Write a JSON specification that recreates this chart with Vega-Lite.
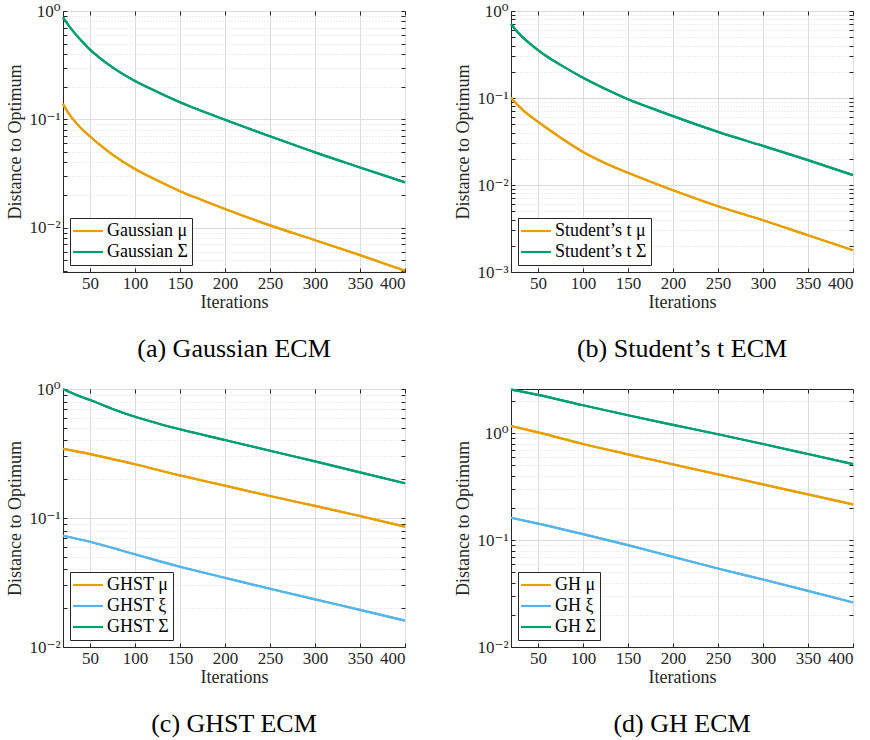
{
  "$schema": "https://vega.github.io/schema/vega-lite/v6.json",
  "padding": {"left": 6, "top": 1, "right": 5, "bottom": 5},
  "config": {
    "font": "Times New Roman, Liberation Serif, DejaVu Serif, serif",
    "view": {"stroke": "#262626", "strokeWidth": 1},
    "axis": {
      "labelFont": "Times New Roman, Liberation Serif, DejaVu Serif, serif", "labelFontSize": 17, "labelColor": "#262626",
      "titleFont": "Times New Roman, Liberation Serif, DejaVu Serif, serif", "titleFontSize": 18, "titleFontWeight": "normal", "titleColor": "#262626",
      "domainColor": "#262626", "tickColor": "#262626", "gridColor": "#dcdcdc", "gridWidth": 1,
      "tickSize": -4, "labelPadding": 7, "labelOverlap": false, "labelBound": false
    },
    "legend": {
      "orient": "bottom-left", "offset": 7, "strokeColor": "#262626", "fillColor": "white",
      "padding": 4, "symbolType": "M-3,0H3", "symbolSize": 100, "symbolStrokeWidth": 2.5, "symbolOffset": 5,
      "labelFont": "Times New Roman, Liberation Serif, DejaVu Serif, serif", "labelFontSize": 18, "labelColor": "#000000", "labelOffset": 10, "rowPadding": 3
    },
    "title": {"font": "Times New Roman, Liberation Serif, DejaVu Serif, serif", "fontSize": 26, "fontWeight": "normal", "color": "#000000"},
    "line": {"strokeWidth": 2.2, "clip": true, "interpolate": "monotone"}
  },
  "data": {"values": [
    {"panel": "a", "series": "Gaussian μ", "iter": 20, "dist": 0.139},
    {"panel": "a", "series": "Gaussian μ", "iter": 25, "dist": 0.118},
    {"panel": "a", "series": "Gaussian μ", "iter": 30, "dist": 0.103},
    {"panel": "a", "series": "Gaussian μ", "iter": 40, "dist": 0.0828},
    {"panel": "a", "series": "Gaussian μ", "iter": 50, "dist": 0.0697},
    {"panel": "a", "series": "Gaussian μ", "iter": 60, "dist": 0.0590},
    {"panel": "a", "series": "Gaussian μ", "iter": 75, "dist": 0.0473},
    {"panel": "a", "series": "Gaussian μ", "iter": 100, "dist": 0.0348},
    {"panel": "a", "series": "Gaussian μ", "iter": 125, "dist": 0.0272},
    {"panel": "a", "series": "Gaussian μ", "iter": 150, "dist": 0.0217},
    {"panel": "a", "series": "Gaussian μ", "iter": 175, "dist": 0.01795},
    {"panel": "a", "series": "Gaussian μ", "iter": 200, "dist": 0.0149},
    {"panel": "a", "series": "Gaussian μ", "iter": 250, "dist": 0.0105},
    {"panel": "a", "series": "Gaussian μ", "iter": 300, "dist": 0.00767},
    {"panel": "a", "series": "Gaussian μ", "iter": 350, "dist": 0.00558},
    {"panel": "a", "series": "Gaussian μ", "iter": 400, "dist": 0.00400},
    {"panel": "a", "series": "Gaussian Σ", "iter": 20, "dist": 0.875},
    {"panel": "a", "series": "Gaussian Σ", "iter": 25, "dist": 0.76},
    {"panel": "a", "series": "Gaussian Σ", "iter": 30, "dist": 0.67},
    {"panel": "a", "series": "Gaussian Σ", "iter": 40, "dist": 0.537},
    {"panel": "a", "series": "Gaussian Σ", "iter": 50, "dist": 0.44},
    {"panel": "a", "series": "Gaussian Σ", "iter": 60, "dist": 0.374},
    {"panel": "a", "series": "Gaussian Σ", "iter": 75, "dist": 0.302},
    {"panel": "a", "series": "Gaussian Σ", "iter": 100, "dist": 0.226},
    {"panel": "a", "series": "Gaussian Σ", "iter": 125, "dist": 0.179},
    {"panel": "a", "series": "Gaussian Σ", "iter": 150, "dist": 0.144},
    {"panel": "a", "series": "Gaussian Σ", "iter": 175, "dist": 0.119},
    {"panel": "a", "series": "Gaussian Σ", "iter": 200, "dist": 0.099},
    {"panel": "a", "series": "Gaussian Σ", "iter": 250, "dist": 0.0697},
    {"panel": "a", "series": "Gaussian Σ", "iter": 300, "dist": 0.0496},
    {"panel": "a", "series": "Gaussian Σ", "iter": 350, "dist": 0.036},
    {"panel": "a", "series": "Gaussian Σ", "iter": 400, "dist": 0.0262},
    {"panel": "b", "series": "Student’s t μ", "iter": 20, "dist": 0.1005},
    {"panel": "b", "series": "Student’s t μ", "iter": 25, "dist": 0.088},
    {"panel": "b", "series": "Student’s t μ", "iter": 30, "dist": 0.078},
    {"panel": "b", "series": "Student’s t μ", "iter": 40, "dist": 0.0634},
    {"panel": "b", "series": "Student’s t μ", "iter": 50, "dist": 0.0532},
    {"panel": "b", "series": "Student’s t μ", "iter": 60, "dist": 0.0449},
    {"panel": "b", "series": "Student’s t μ", "iter": 75, "dist": 0.0351},
    {"panel": "b", "series": "Student’s t μ", "iter": 100, "dist": 0.024},
    {"panel": "b", "series": "Student’s t μ", "iter": 125, "dist": 0.0178},
    {"panel": "b", "series": "Student’s t μ", "iter": 150, "dist": 0.0138},
    {"panel": "b", "series": "Student’s t μ", "iter": 175, "dist": 0.0109},
    {"panel": "b", "series": "Student’s t μ", "iter": 200, "dist": 0.0087},
    {"panel": "b", "series": "Student’s t μ", "iter": 250, "dist": 0.0057},
    {"panel": "b", "series": "Student’s t μ", "iter": 300, "dist": 0.00393},
    {"panel": "b", "series": "Student’s t μ", "iter": 350, "dist": 0.00264},
    {"panel": "b", "series": "Student’s t μ", "iter": 400, "dist": 0.00178},
    {"panel": "b", "series": "Student’s t Σ", "iter": 20, "dist": 0.708},
    {"panel": "b", "series": "Student’s t Σ", "iter": 25, "dist": 0.61},
    {"panel": "b", "series": "Student’s t Σ", "iter": 30, "dist": 0.535},
    {"panel": "b", "series": "Student’s t Σ", "iter": 40, "dist": 0.43},
    {"panel": "b", "series": "Student’s t Σ", "iter": 50, "dist": 0.356},
    {"panel": "b", "series": "Student’s t Σ", "iter": 60, "dist": 0.30},
    {"panel": "b", "series": "Student’s t Σ", "iter": 75, "dist": 0.24},
    {"panel": "b", "series": "Student’s t Σ", "iter": 100, "dist": 0.171},
    {"panel": "b", "series": "Student’s t Σ", "iter": 125, "dist": 0.127},
    {"panel": "b", "series": "Student’s t Σ", "iter": 150, "dist": 0.097},
    {"panel": "b", "series": "Student’s t Σ", "iter": 175, "dist": 0.077},
    {"panel": "b", "series": "Student’s t Σ", "iter": 200, "dist": 0.0619},
    {"panel": "b", "series": "Student’s t Σ", "iter": 250, "dist": 0.0408},
    {"panel": "b", "series": "Student’s t Σ", "iter": 300, "dist": 0.0282},
    {"panel": "b", "series": "Student’s t Σ", "iter": 350, "dist": 0.0193},
    {"panel": "b", "series": "Student’s t Σ", "iter": 400, "dist": 0.013},
    {"panel": "c", "series": "GHST μ", "iter": 20, "dist": 0.343},
    {"panel": "c", "series": "GHST μ", "iter": 50, "dist": 0.313},
    {"panel": "c", "series": "GHST μ", "iter": 100, "dist": 0.261},
    {"panel": "c", "series": "GHST μ", "iter": 150, "dist": 0.214},
    {"panel": "c", "series": "GHST μ", "iter": 200, "dist": 0.178},
    {"panel": "c", "series": "GHST μ", "iter": 250, "dist": 0.148},
    {"panel": "c", "series": "GHST μ", "iter": 300, "dist": 0.124},
    {"panel": "c", "series": "GHST μ", "iter": 350, "dist": 0.1037},
    {"panel": "c", "series": "GHST μ", "iter": 400, "dist": 0.0857},
    {"panel": "c", "series": "GHST ξ", "iter": 20, "dist": 0.0729},
    {"panel": "c", "series": "GHST ξ", "iter": 50, "dist": 0.0655},
    {"panel": "c", "series": "GHST ξ", "iter": 100, "dist": 0.0523},
    {"panel": "c", "series": "GHST ξ", "iter": 150, "dist": 0.0419},
    {"panel": "c", "series": "GHST ξ", "iter": 200, "dist": 0.0344},
    {"panel": "c", "series": "GHST ξ", "iter": 250, "dist": 0.0283},
    {"panel": "c", "series": "GHST ξ", "iter": 300, "dist": 0.0234},
    {"panel": "c", "series": "GHST ξ", "iter": 350, "dist": 0.0194},
    {"panel": "c", "series": "GHST ξ", "iter": 400, "dist": 0.016},
    {"panel": "c", "series": "GHST Σ", "iter": 20, "dist": 0.995},
    {"panel": "c", "series": "GHST Σ", "iter": 30, "dist": 0.93},
    {"panel": "c", "series": "GHST Σ", "iter": 40, "dist": 0.87},
    {"panel": "c", "series": "GHST Σ", "iter": 50, "dist": 0.822},
    {"panel": "c", "series": "GHST Σ", "iter": 75, "dist": 0.70},
    {"panel": "c", "series": "GHST Σ", "iter": 100, "dist": 0.61},
    {"panel": "c", "series": "GHST Σ", "iter": 150, "dist": 0.487},
    {"panel": "c", "series": "GHST Σ", "iter": 200, "dist": 0.402},
    {"panel": "c", "series": "GHST Σ", "iter": 250, "dist": 0.332},
    {"panel": "c", "series": "GHST Σ", "iter": 300, "dist": 0.275},
    {"panel": "c", "series": "GHST Σ", "iter": 350, "dist": 0.226},
    {"panel": "c", "series": "GHST Σ", "iter": 400, "dist": 0.186},
    {"panel": "d", "series": "GH μ", "iter": 20, "dist": 1.17},
    {"panel": "d", "series": "GH μ", "iter": 50, "dist": 1.02},
    {"panel": "d", "series": "GH μ", "iter": 100, "dist": 0.794},
    {"panel": "d", "series": "GH μ", "iter": 150, "dist": 0.636},
    {"panel": "d", "series": "GH μ", "iter": 200, "dist": 0.512},
    {"panel": "d", "series": "GH μ", "iter": 250, "dist": 0.413},
    {"panel": "d", "series": "GH μ", "iter": 300, "dist": 0.333},
    {"panel": "d", "series": "GH μ", "iter": 350, "dist": 0.268},
    {"panel": "d", "series": "GH μ", "iter": 400, "dist": 0.216},
    {"panel": "d", "series": "GH ξ", "iter": 20, "dist": 0.162},
    {"panel": "d", "series": "GH ξ", "iter": 50, "dist": 0.143},
    {"panel": "d", "series": "GH ξ", "iter": 100, "dist": 0.1138},
    {"panel": "d", "series": "GH ξ", "iter": 150, "dist": 0.0898},
    {"panel": "d", "series": "GH ξ", "iter": 200, "dist": 0.0698},
    {"panel": "d", "series": "GH ξ", "iter": 250, "dist": 0.0543},
    {"panel": "d", "series": "GH ξ", "iter": 300, "dist": 0.0428},
    {"panel": "d", "series": "GH ξ", "iter": 350, "dist": 0.0335},
    {"panel": "d", "series": "GH ξ", "iter": 400, "dist": 0.0261},
    {"panel": "d", "series": "GH Σ", "iter": 20, "dist": 2.57},
    {"panel": "d", "series": "GH Σ", "iter": 50, "dist": 2.29},
    {"panel": "d", "series": "GH Σ", "iter": 100, "dist": 1.83},
    {"panel": "d", "series": "GH Σ", "iter": 150, "dist": 1.475},
    {"panel": "d", "series": "GH Σ", "iter": 200, "dist": 1.20},
    {"panel": "d", "series": "GH Σ", "iter": 250, "dist": 0.98},
    {"panel": "d", "series": "GH Σ", "iter": 300, "dist": 0.794},
    {"panel": "d", "series": "GH Σ", "iter": 350, "dist": 0.64},
    {"panel": "d", "series": "GH Σ", "iter": 400, "dist": 0.515}
  ]},
  "spacing": 16,
  "resolve": {"scale": {"x": "independent", "y": "independent", "color": "independent"}, "legend": {"color": "independent"}},
  "vconcat": [
    {
      "spacing": 44,
      "resolve": {"scale": {"x": "independent", "y": "independent", "color": "independent"}, "legend": {"color": "independent"}},
      "hconcat": [
        {
          "width": 342, "height": 261,
          "title": {"text": "(a) Gaussian ECM", "orient": "bottom", "offset": 25},
          "transform": [{"filter": "datum.panel == 'a'"}],
          "encoding": {
            "color": {"field": "series", "type": "nominal", "title": null,
              "scale": {"domain": ["Gaussian μ", "Gaussian Σ"], "range": ["#E69F00", "#009E73"]}}
          },
          "resolve": {"axis": {"x": "independent", "y": "independent"}},
          "layer": [
            {
              "mark": {"type": "line"},
              "encoding": {
                "x": {"field": "iter", "type": "quantitative", "scale": {"domain": [20, 400], "nice": false, "zero": false},
                  "axis": {"values": [50, 100, 150, 200, 250, 300, 350, 400], "title": "Iterations", "titlePadding": 2}},
                "y": {"field": "dist", "type": "quantitative", "scale": {"type": "log", "domain": [0.0039, 1], "nice": false},
                  "axis": {"title": "Distance to Optimum", "titlePadding": 4,
                    "values": [0.004, 0.005, 0.006, 0.007, 0.008, 0.009, 0.01, 0.02, 0.03, 0.04, 0.05, 0.06, 0.07, 0.08, 0.09, 0.1, 0.2, 0.3, 0.4, 0.5, 0.6, 0.7, 0.8, 0.9, 1],
                    "labelExpr": "abs(log(datum.value)/LN10 - round(log(datum.value)/LN10)) < 0.001 ? (round(log(datum.value)/LN10) == 0 ? '10⁰' : round(log(datum.value)/LN10) == -1 ? '10⁻¹' : round(log(datum.value)/LN10) == -2 ? '10⁻²' : '10⁻³') : ''",
                    "gridDash": {"condition": {"test": "abs(log(datum.value)/LN10 - round(log(datum.value)/LN10)) < 0.001", "value": []}, "value": [1, 2]}}}
              }
            },
            {
              "mark": {"type": "line"},
              "encoding": {
                "x": {"field": "iter", "type": "quantitative", "scale": {"domain": [20, 400], "nice": false, "zero": false},
                  "axis": {"orient": "top", "values": [50, 100, 150, 200, 250, 300, 350, 400], "title": null, "labels": false, "grid": false, "domain": false}},
                "y": {"field": "dist", "type": "quantitative", "scale": {"type": "log", "domain": [0.0039, 1], "nice": false},
                  "axis": {"orient": "right", "title": null, "labels": false, "grid": false, "domain": false,
                    "values": [0.004, 0.005, 0.006, 0.007, 0.008, 0.009, 0.01, 0.02, 0.03, 0.04, 0.05, 0.06, 0.07, 0.08, 0.09, 0.1, 0.2, 0.3, 0.4, 0.5, 0.6, 0.7, 0.8, 0.9, 1]}}
              }
            }
          ]
        },
        {
          "width": 342, "height": 261,
          "title": {"text": "(b) Student’s t ECM", "orient": "bottom", "offset": 25},
          "transform": [{"filter": "datum.panel == 'b'"}],
          "encoding": {
            "color": {"field": "series", "type": "nominal", "title": null,
              "scale": {"domain": ["Student’s t μ", "Student’s t Σ"], "range": ["#E69F00", "#009E73"]}}
          },
          "resolve": {"axis": {"x": "independent", "y": "independent"}},
          "layer": [
            {
              "mark": {"type": "line"},
              "encoding": {
                "x": {"field": "iter", "type": "quantitative", "scale": {"domain": [20, 400], "nice": false, "zero": false},
                  "axis": {"values": [50, 100, 150, 200, 250, 300, 350, 400], "title": "Iterations", "titlePadding": 2}},
                "y": {"field": "dist", "type": "quantitative", "scale": {"type": "log", "domain": [0.001, 1], "nice": false},
                  "axis": {"title": "Distance to Optimum", "titlePadding": 4,
                    "values": [0.001, 0.002, 0.003, 0.004, 0.005, 0.006, 0.007, 0.008, 0.009, 0.01, 0.02, 0.03, 0.04, 0.05, 0.06, 0.07, 0.08, 0.09, 0.1, 0.2, 0.3, 0.4, 0.5, 0.6, 0.7, 0.8, 0.9, 1],
                    "labelExpr": "abs(log(datum.value)/LN10 - round(log(datum.value)/LN10)) < 0.001 ? (round(log(datum.value)/LN10) == 0 ? '10⁰' : round(log(datum.value)/LN10) == -1 ? '10⁻¹' : round(log(datum.value)/LN10) == -2 ? '10⁻²' : '10⁻³') : ''",
                    "gridDash": {"condition": {"test": "abs(log(datum.value)/LN10 - round(log(datum.value)/LN10)) < 0.001", "value": []}, "value": [1, 2]}}}
              }
            },
            {
              "mark": {"type": "line"},
              "encoding": {
                "x": {"field": "iter", "type": "quantitative", "scale": {"domain": [20, 400], "nice": false, "zero": false},
                  "axis": {"orient": "top", "values": [50, 100, 150, 200, 250, 300, 350, 400], "title": null, "labels": false, "grid": false, "domain": false}},
                "y": {"field": "dist", "type": "quantitative", "scale": {"type": "log", "domain": [0.001, 1], "nice": false},
                  "axis": {"orient": "right", "title": null, "labels": false, "grid": false, "domain": false,
                    "values": [0.001, 0.002, 0.003, 0.004, 0.005, 0.006, 0.007, 0.008, 0.009, 0.01, 0.02, 0.03, 0.04, 0.05, 0.06, 0.07, 0.08, 0.09, 0.1, 0.2, 0.3, 0.4, 0.5, 0.6, 0.7, 0.8, 0.9, 1]}}
              }
            }
          ]
        }
      ]
    },
    {
      "spacing": 44,
      "resolve": {"scale": {"x": "independent", "y": "independent", "color": "independent"}, "legend": {"color": "independent"}},
      "hconcat": [
        {
          "width": 342, "height": 258,
          "title": {"text": "(c) GHST ECM", "orient": "bottom", "offset": 25},
          "transform": [{"filter": "datum.panel == 'c'"}],
          "encoding": {
            "color": {"field": "series", "type": "nominal", "title": null,
              "scale": {"domain": ["GHST μ", "GHST ξ", "GHST Σ"], "range": ["#E69F00", "#56B4E9", "#009E73"]}}
          },
          "resolve": {"axis": {"x": "independent", "y": "independent"}},
          "layer": [
            {
              "mark": {"type": "line"},
              "encoding": {
                "x": {"field": "iter", "type": "quantitative", "scale": {"domain": [20, 400], "nice": false, "zero": false},
                  "axis": {"values": [50, 100, 150, 200, 250, 300, 350, 400], "title": "Iterations", "titlePadding": 2}},
                "y": {"field": "dist", "type": "quantitative", "scale": {"type": "log", "domain": [0.01, 1], "nice": false},
                  "axis": {"title": "Distance to Optimum", "titlePadding": 4,
                    "values": [0.01, 0.02, 0.03, 0.04, 0.05, 0.06, 0.07, 0.08, 0.09, 0.1, 0.2, 0.3, 0.4, 0.5, 0.6, 0.7, 0.8, 0.9, 1],
                    "labelExpr": "abs(log(datum.value)/LN10 - round(log(datum.value)/LN10)) < 0.001 ? (round(log(datum.value)/LN10) == 0 ? '10⁰' : round(log(datum.value)/LN10) == -1 ? '10⁻¹' : round(log(datum.value)/LN10) == -2 ? '10⁻²' : '10⁻³') : ''",
                    "gridDash": {"condition": {"test": "abs(log(datum.value)/LN10 - round(log(datum.value)/LN10)) < 0.001", "value": []}, "value": [1, 2]}}}
              }
            },
            {
              "mark": {"type": "line"},
              "encoding": {
                "x": {"field": "iter", "type": "quantitative", "scale": {"domain": [20, 400], "nice": false, "zero": false},
                  "axis": {"orient": "top", "values": [50, 100, 150, 200, 250, 300, 350, 400], "title": null, "labels": false, "grid": false, "domain": false}},
                "y": {"field": "dist", "type": "quantitative", "scale": {"type": "log", "domain": [0.01, 1], "nice": false},
                  "axis": {"orient": "right", "title": null, "labels": false, "grid": false, "domain": false,
                    "values": [0.01, 0.02, 0.03, 0.04, 0.05, 0.06, 0.07, 0.08, 0.09, 0.1, 0.2, 0.3, 0.4, 0.5, 0.6, 0.7, 0.8, 0.9, 1]}}
              }
            }
          ]
        },
        {
          "width": 342, "height": 258,
          "title": {"text": "(d) GH ECM", "orient": "bottom", "offset": 25},
          "transform": [{"filter": "datum.panel == 'd'"}],
          "encoding": {
            "color": {"field": "series", "type": "nominal", "title": null,
              "scale": {"domain": ["GH μ", "GH ξ", "GH Σ"], "range": ["#E69F00", "#56B4E9", "#009E73"]}}
          },
          "resolve": {"axis": {"x": "independent", "y": "independent"}},
          "layer": [
            {
              "mark": {"type": "line"},
              "encoding": {
                "x": {"field": "iter", "type": "quantitative", "scale": {"domain": [20, 400], "nice": false, "zero": false},
                  "axis": {"values": [50, 100, 150, 200, 250, 300, 350, 400], "title": "Iterations", "titlePadding": 2}},
                "y": {"field": "dist", "type": "quantitative", "scale": {"type": "log", "domain": [0.01, 2.6], "nice": false},
                  "axis": {"title": "Distance to Optimum", "titlePadding": 4,
                    "values": [0.01, 0.02, 0.03, 0.04, 0.05, 0.06, 0.07, 0.08, 0.09, 0.1, 0.2, 0.3, 0.4, 0.5, 0.6, 0.7, 0.8, 0.9, 1, 2],
                    "labelExpr": "abs(log(datum.value)/LN10 - round(log(datum.value)/LN10)) < 0.001 ? (round(log(datum.value)/LN10) == 0 ? '10⁰' : round(log(datum.value)/LN10) == -1 ? '10⁻¹' : round(log(datum.value)/LN10) == -2 ? '10⁻²' : '10⁻³') : ''",
                    "gridDash": {"condition": {"test": "abs(log(datum.value)/LN10 - round(log(datum.value)/LN10)) < 0.001", "value": []}, "value": [1, 2]}}}
              }
            },
            {
              "mark": {"type": "line"},
              "encoding": {
                "x": {"field": "iter", "type": "quantitative", "scale": {"domain": [20, 400], "nice": false, "zero": false},
                  "axis": {"orient": "top", "values": [50, 100, 150, 200, 250, 300, 350, 400], "title": null, "labels": false, "grid": false, "domain": false}},
                "y": {"field": "dist", "type": "quantitative", "scale": {"type": "log", "domain": [0.01, 2.6], "nice": false},
                  "axis": {"orient": "right", "title": null, "labels": false, "grid": false, "domain": false,
                    "values": [0.01, 0.02, 0.03, 0.04, 0.05, 0.06, 0.07, 0.08, 0.09, 0.1, 0.2, 0.3, 0.4, 0.5, 0.6, 0.7, 0.8, 0.9, 1, 2]}}
              }
            }
          ]
        }
      ]
    }
  ]
}
